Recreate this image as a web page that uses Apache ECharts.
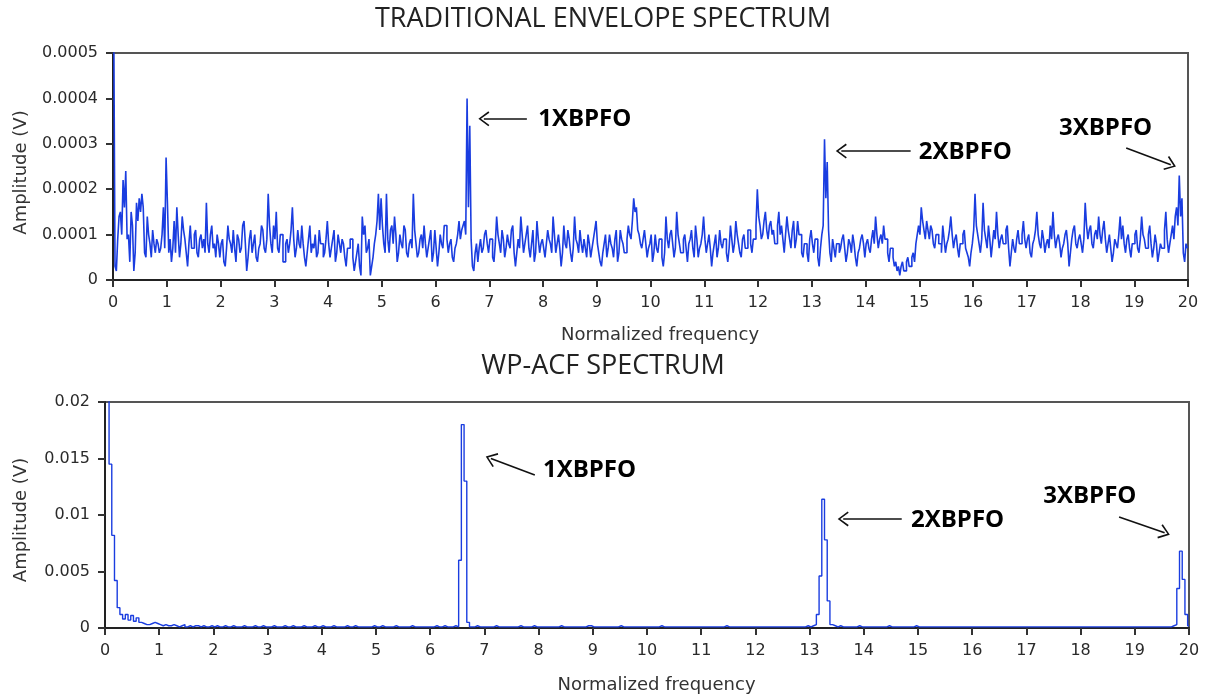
<!DOCTYPE html>
<html><head><meta charset="utf-8">
<script src="https://cdn.jsdelivr.net/npm/echarts@6/dist/echarts.min.js"></script>
<style>html,body{margin:0;padding:0;background:#fff}#c{width:1206px;height:700px}</style>
</head><body><div id="c"></div>
<script>
// Frequency grids: envelope spectrum every 0.025, WP-ACF spectrum every 0.05 (normalized frequency 0..20)
const envStep = 0.025;
const acfStep = 0.05;
const xTicks = ['0','1','2','3','4','5','6','7','8','9','10','11','12','13','14','15','16','17','18','19','20'];
const titles = ['TRADITIONAL ENVELOPE SPECTRUM', 'WP-ACF SPECTRUM'];
const annoText = ['1XBPFO', '2XBPFO', '3XBPFO'];

// Traditional envelope spectrum amplitude, units of 1e-5 V (40 values per unit of normalized frequency)
const envAmp_e5 = [
  70, 60, 3, 2, 9, 14, 15, 10, 22, 16, 24, 9, 10, 4, 15, 12, 2, 6, 17, 13, 18, 15, 19, 16, 6, 5, 14, 10, 8, 5, 11, 8, 6, 9, 8, 6, 7, 10, 16, 7,
  27, 17, 6, 9, 4, 7, 13, 6, 16, 10, 5, 8, 14, 11, 9, 6, 3, 8, 12, 7, 7, 10, 11, 6, 5, 9, 10, 7, 9, 6, 17, 8, 6, 10, 12, 7, 8, 5, 10, 8,
  5, 8, 9, 4, 3, 7, 12, 9, 8, 6, 11, 7, 4, 10, 9, 6, 7, 12, 13, 8, 2, 5, 9, 11, 6, 8, 10, 5, 4, 7, 8, 12, 11, 7, 6, 9, 19, 12, 8, 6,
  12, 9, 15, 7, 6, 10, 10, 4, 4, 8, 9, 6, 8, 11, 16, 9, 5, 7, 11, 8, 7, 12, 8, 5, 3, 6, 9, 12, 6, 8, 7, 10, 5, 6, 11, 8, 8, 5, 6, 9,
  13, 8, 5, 7, 9, 11, 4, 6, 10, 8, 6, 9, 8, 5, 3, 7, 7, 9, 9, 5, 2, 4, 6, 8, 3, 1, 14, 10, 12, 6, 7, 9, 1, 3, 5, 8, 10, 13, 19, 11,
  18, 12, 8, 6, 19, 9, 6, 11, 12, 8, 14, 10, 4, 6, 10, 8, 7, 12, 11, 6, 5, 8, 9, 7, 19, 11, 8, 5, 6, 9, 10, 7, 12, 8, 5, 7, 9, 11, 4, 6,
  11, 7, 3, 6, 10, 8, 7, 12, 12, 9, 6, 8, 9, 5, 4, 7, 8, 10, 13, 9, 11, 12, 13, 10, 40, 16, 34, 9, 3, 2, 6, 8, 4, 7, 9, 6, 7, 10, 11, 8,
  6, 9, 9, 5, 4, 8, 14, 10, 8, 6, 11, 9, 5, 7, 10, 8, 7, 11, 12, 6, 3, 6, 9, 7, 14, 10, 6, 8, 10, 12, 7, 5, 8, 11, 4, 6, 13, 9, 6, 8,
  9, 7, 5, 8, 11, 9, 8, 6, 14, 10, 6, 8, 10, 7, 3, 6, 12, 8, 7, 11, 9, 6, 4, 7, 14, 9, 8, 6, 11, 8, 6, 9, 7, 5, 10, 8, 5, 7, 9, 11,
  13, 8, 6, 4, 3, 6, 8, 10, 5, 7, 10, 8, 7, 5, 9, 11, 4, 6, 11, 9, 8, 6, 6, 9, 12, 10, 9, 13, 18, 15, 16, 11, 10, 8, 7, 9, 11, 8, 5, 7,
  8, 10, 4, 6, 10, 7, 6, 9, 9, 5, 3, 6, 14, 9, 7, 10, 11, 8, 5, 7, 15, 10, 8, 6, 6, 9, 10, 7, 4, 8, 9, 11, 7, 5, 12, 9, 5, 7, 8, 10,
  14, 9, 6, 8, 10, 7, 3, 6, 8, 10, 5, 7, 11, 8, 7, 9, 9, 6, 4, 7, 12, 9, 6, 8, 13, 10, 8, 6, 5, 9, 10, 7, 7, 11, 11, 8, 6, 9, 9, 12,
  20, 14, 12, 9, 10, 13, 15, 11, 9, 12, 13, 10, 11, 8, 8, 12, 15, 10, 12, 9, 6, 10, 14, 11, 9, 7, 11, 13, 7, 9, 13, 10, 10, 6, 5, 8, 8, 6, 4, 9,
  11, 8, 6, 9, 9, 5, 3, 7, 10, 12, 31, 18, 26, 11, 6, 4, 9, 7, 5, 8, 8, 6, 7, 9, 10, 7, 4, 6, 9, 8, 6, 10, 8, 5, 3, 6, 7, 9, 10, 8,
  5, 8, 9, 7, 6, 9, 11, 8, 14, 10, 7, 9, 10, 8, 12, 9, 9, 6, 4, 7, 7, 5, 3, 4, 2, 3, 1, 3, 4, 2, 2, 4, 5, 3, 3, 5, 6, 4, 8, 10,
  12, 10, 16, 13, 11, 9, 13, 11, 9, 12, 11, 8, 7, 10, 10, 8, 8, 6, 12, 9, 6, 8, 9, 11, 14, 10, 7, 9, 10, 7, 5, 8, 8, 10, 11, 7, 6, 5, 3, 6,
  8, 11, 19, 12, 10, 8, 6, 9, 17, 11, 9, 7, 12, 9, 5, 8, 11, 9, 15, 10, 7, 9, 10, 8, 8, 11, 12, 7, 3, 6, 9, 7, 6, 9, 11, 8, 8, 10, 13, 9,
  7, 9, 10, 6, 5, 8, 9, 11, 15, 10, 8, 7, 11, 9, 6, 8, 9, 7, 12, 9, 15, 10, 7, 9, 10, 8, 5, 7, 8, 10, 11, 8, 3, 6, 9, 11, 12, 8, 7, 9,
  10, 8, 6, 9, 17, 12, 9, 11, 12, 8, 7, 10, 11, 9, 14, 10, 8, 11, 13, 9, 6, 8, 10, 7, 4, 6, 9, 8, 7, 10, 14, 9, 12, 8, 6, 9, 10, 7, 5, 8,
  8, 10, 11, 7, 6, 9, 14, 10, 9, 7, 7, 10, 12, 8, 5, 7, 10, 8, 4, 6, 8, 7, 7, 11, 15, 9, 6, 8, 10, 12, 9, 14, 16, 12, 23, 14, 18, 6, 4, 8,
  7
];

// WP-ACF spectrum amplitude, units of 1e-4 V (20 values per unit of normalized frequency)
const acfAmp_e4 = [
  260, 230, 145, 82, 42, 18, 12, 8, 12, 7, 11, 6, 9, 5, 4, 3, 3, 4, 5, 4,
  3, 2, 3, 2, 2, 3, 2, 1, 2, 3, 1, 2, 1, 2, 2, 1, 2, 1, 1, 2,
  1, 2, 1, 1, 2, 1, 1, 2, 1, 1, 1, 2, 1, 1, 1, 2, 1, 1, 2, 1,
  1, 1, 2, 1, 1, 1, 2, 1, 1, 2, 1, 1, 1, 2, 1, 1, 1, 2, 1, 1,
  2, 1, 1, 1, 2, 1, 1, 1, 1, 2, 1, 1, 2, 1, 1, 1, 1, 1, 1, 2,
  1, 1, 2, 1, 1, 1, 1, 2, 1, 1, 1, 1, 1, 2, 1, 1, 1, 1, 1, 1,
  1, 1, 2, 1, 1, 2, 1, 1, 1, 2, 1, 60, 180, 130, 5, 1, 1, 2, 1, 1,
  1, 1, 1, 1, 2, 1, 1, 1, 1, 1, 1, 1, 1, 2, 1, 1, 1, 1, 2, 1,
  1, 1, 1, 1, 1, 1, 1, 1, 2, 1, 1, 1, 1, 1, 1, 1, 1, 1, 2, 2,
  1, 1, 1, 1, 1, 1, 1, 1, 1, 1, 2, 1, 1, 1, 1, 1, 1, 1, 1, 1,
  1, 1, 1, 1, 1, 2, 1, 1, 1, 1, 1, 1, 1, 1, 1, 1, 1, 1, 1, 1,
  1, 1, 1, 1, 1, 1, 1, 1, 1, 2, 1, 1, 1, 1, 1, 1, 1, 1, 1, 1,
  1, 1, 1, 1, 1, 1, 1, 1, 1, 1, 1, 1, 1, 1, 1, 1, 1, 1, 1, 2,
  1, 2, 3, 12, 46, 114, 78, 24, 3, 2, 1, 2, 1, 1, 1, 1, 1, 1, 2, 1,
  1, 1, 1, 1, 1, 1, 1, 1, 1, 2, 1, 1, 1, 1, 1, 1, 1, 1, 1, 2,
  1, 1, 1, 1, 1, 1, 1, 1, 1, 1, 1, 1, 1, 1, 1, 1, 1, 1, 1, 1,
  1, 1, 1, 1, 1, 1, 1, 1, 1, 1, 1, 1, 1, 1, 1, 1, 1, 1, 1, 1,
  1, 1, 1, 1, 1, 1, 1, 1, 1, 1, 1, 1, 1, 1, 1, 1, 1, 1, 1, 1,
  1, 1, 1, 1, 1, 1, 1, 1, 1, 1, 1, 1, 1, 1, 1, 1, 1, 1, 1, 1,
  1, 1, 1, 1, 1, 1, 1, 1, 1, 1, 1, 1, 1, 1, 2, 3, 35, 68, 43, 12,
  2
];

// annotation anchors in data units [x, y]
const envLabelPos = [[7.91, 0.000355], [14.99, 0.000282], [17.60, 0.000335]];
const envArrows = [[[7.70, 0.000355], [6.90, 0.000355]], [[14.84, 0.000284], [13.55, 0.000284]], [[18.85, 0.000291], [19.68, 0.000254]]];
const acfLabelPos = [[8.08, 0.01398], [14.87, 0.00956], [17.31, 0.01168]];
const acfArrows = [[[7.93, 0.01354], [7.12, 0.01500]], [[14.70, 0.00965], [13.62, 0.00965]], [[18.71, 0.00982], [19.55, 0.00842]]];

const envData = envAmp_e5.map((v, i) => [+(i * envStep).toFixed(3), v * 1e-5]);
const acfData = acfAmp_e4.map((v, i) => [+(i * acfStep).toFixed(3), v * 1e-4]);

const chevron = 'path://M10,0 L20,14 L18.2,15.4 L10,3.6 L1.8,15.4 L0,14 Z';
const lineColor = '#1a3de0';
const axisFont = 'DejaVu Sans';

function mkMarkLine(arrows) {
  return {
    silent: true, animation: false,
    symbol: ['none', chevron], symbolSize: [15, 11],
    lineStyle: { color: '#111', width: 1.6, type: 'solid' },
    label: { show: false },
    data: arrows.map(a => [{ coord: a[0] }, { coord: a[1] }])
  };
}
function mkMarkPoint(pos) {
  return {
    silent: true, animation: false,
    symbol: 'circle', symbolSize: 0,
    itemStyle: { color: 'rgba(0,0,0,0)' },
    label: { show: true, position: 'right', distance: 0, color: '#000', fontFamily: 'Open Sans', fontWeight: 'bold', fontSize: 24 },
    data: pos.map((p, i) => ({ coord: p, value: annoText[i], label: { formatter: annoText[i] } }))
  };
}
function xAxisCfg(gi) {
  return {
    type: 'value', gridIndex: gi, min: 0, max: 20, interval: 1,
    name: 'Normalized frequency', nameLocation: 'middle', nameGap: gi === 0 ? 46 : 48,
    nameTextStyle: { fontFamily: axisFont, fontSize: 18, color: '#333', padding: [0, 0, 0, 19] },
    axisLine: { show: true, onZero: false, lineStyle: { color: '#222', width: 2 } },
    axisTick: { show: true, length: 7, lineStyle: { color: '#333', width: 2 } },
    axisLabel: { margin: 15, fontFamily: axisFont, fontSize: 16, color: '#2a2a2a', formatter: v => xTicks[Math.round(v)] },
    splitLine: { show: false }
  };
}
function yAxisCfg(gi, max, interval, digits, gap, shift) {
  return {
    type: 'value', gridIndex: gi, min: 0, max: max, interval: interval,
    name: 'Amplitude (V)', nameLocation: 'middle', nameGap: gap,
    nameTextStyle: { fontFamily: axisFont, fontSize: 18, color: '#333', padding: [0, shift, 0, 0] },
    axisLine: { show: true, lineStyle: { color: '#222', width: 2 } },
    axisTick: { show: true, length: 7, lineStyle: { color: '#333', width: 2 } },
    axisLabel: { margin: 15, fontFamily: axisFont, fontSize: 16, color: '#2a2a2a',
      formatter: v => v === 0 ? '0' : String(parseFloat(v.toFixed(digits))) },
    splitLine: { show: false }
  };
}

const chart = echarts.init(document.getElementById('c'), null, { renderer: 'canvas' });
chart.setOption({
  animation: false,
  backgroundColor: '#fff',
  title: [
    { text: titles[0], left: 'center', top: 1, textStyle: { fontFamily: 'Open Sans', fontWeight: 'normal', fontSize: 27, color: '#222' } },
    { text: titles[1], left: 'center', top: 348, textStyle: { fontFamily: 'Open Sans', fontWeight: 'normal', fontSize: 27, color: '#222' } }
  ],
  grid: [
    { left: 113, right: 18, top: 53, height: 227, show: true, borderColor: '#555', borderWidth: 2, containLabel: false },
    { left: 105, right: 17, top: 402, height: 226, show: true, borderColor: '#555', borderWidth: 2, containLabel: false }
  ],
  xAxis: [xAxisCfg(0), xAxisCfg(1)],
  yAxis: [yAxisCfg(0, 0.0005, 0.0001, 4, 83, 12), yAxisCfg(1, 0.02, 0.005, 3, 75, 10)],
  series: [
    { type: 'line', xAxisIndex: 0, yAxisIndex: 0, data: envData, step: 'middle', showSymbol: false, clip: true,
      lineStyle: { color: lineColor, width: 1.6 }, itemStyle: { color: lineColor },
      markLine: mkMarkLine(envArrows), markPoint: mkMarkPoint(envLabelPos) },
    { type: 'line', xAxisIndex: 1, yAxisIndex: 1, data: acfData, step: 'middle', showSymbol: false, clip: true,
      lineStyle: { color: lineColor, width: 1.4 }, itemStyle: { color: lineColor },
      markLine: mkMarkLine(acfArrows), markPoint: mkMarkPoint(acfLabelPos) }
  ]
});
</script>
</body></html>
